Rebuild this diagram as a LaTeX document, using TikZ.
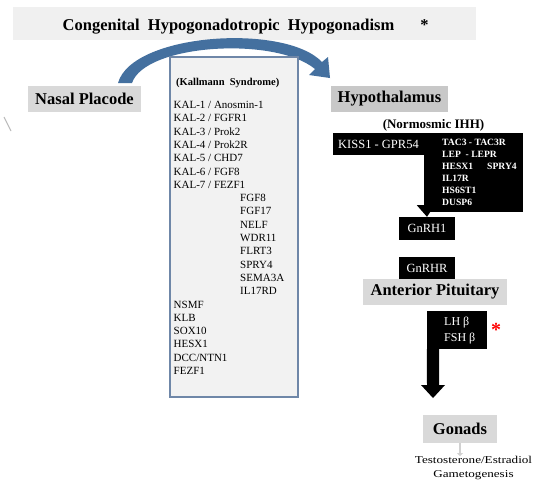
\documentclass[tikz,border=0pt]{standalone}
\usepackage{fontspec}
\setmainfont{Liberation Serif}
\newfontfamily\wideserif[FakeStretch=1.25]{Liberation Serif}
\usetikzlibrary{arrows.meta}
\definecolor{bandgray}{HTML}{F0F0F0}
\definecolor{lblgray}{HTML}{D9D9D9}
\definecolor{hypgray}{HTML}{C8C8C8}
\definecolor{kfill}{HTML}{F2F2F2}
\definecolor{kborder}{HTML}{6F87A8}
\definecolor{arcblue}{HTML}{44709F}
\begin{document}
\begin{tikzpicture}[x=1pt,y=-1pt,
  lbl/.style={fill=lblgray, inner sep=0pt, font=\fontsize{16.5}{18}\selectfont\bfseries},
  blk/.style={fill=black, inner sep=0pt, text=white},
  kl/.style={anchor=base west, inner sep=0pt, font=\fontsize{11}{13}\selectfont},
  tl/.style={anchor=base west, inner sep=0pt, text=white, font=\fontsize{9.6}{11}\selectfont\bfseries}]
\useasboundingbox (0,0) rectangle (545,483);
\fill[white] (0,0) rectangle (545,483);

% title
\node[fill=bandgray, minimum width=463pt, minimum height=33pt, inner sep=0pt] (band) at (244.5,23.5) {};
\node[anchor=base, inner sep=0pt, font=\fontsize{16.5}{18}\selectfont\bfseries] (title) at (228.5,30.5) {Congenital\ \ Hypogonadotropic\ \ Hypogonadism};
\node[anchor=base, inner sep=0pt, font=\fontsize{16.5}{18}\selectfont\bfseries] (star) at (424.5,30.5) {*};

% small grey mark at left
\draw[gray!55, line width=1pt] (4,117) .. controls (7,123) .. (11,131);

% curved blue arrow
\fill[arcblue] (118,83) .. controls (132,33) and (285,23) .. (322,62) -- (328,57) -- (330,78) -- (309,75) -- (315,69) .. controls (275,36) and (145,44) .. (132,83) -- cycle;

% left side
\node[lbl, minimum width=113pt, minimum height=26pt] (nasal) at (84.5,99) {Nasal Placode};

% Kallmann box
\node[fill=kfill, draw=kborder, line width=1.5pt, minimum width=128pt, minimum height=340pt, inner sep=0pt] (kbox) at (234,227) {};
\node[anchor=base west, inner sep=0pt, font=\fontsize{10.5}{12}\selectfont\bfseries] (ksyn) at (176,85.5) {(Kallmann\ \ Syndrome)};
\foreach \t [count=\i from 0] in {KAL-1 / Anosmin-1, KAL-2 / FGFR1, KAL-3 / Prok2, KAL-4 / Prok2R, KAL-5 / CHD7, KAL-6 / FGF8, KAL-7 / FEZF1}
  \node[kl] (ka\i) at (173.5,108.5+13.3*\i) {\t};
\foreach \t [count=\i from 7] in {FGF8, FGF17, NELF, WDR11, FLRT3, SPRY4, SEMA3A, IL17RD}
  \node[kl] (ka\i) at (240,108.5+13.3*\i) {\t};
\foreach \t [count=\i from 15] in {NSMF, KLB, SOX10, HESX1, DCC/NTN1, FEZF1}
  \node[kl] (ka\i) at (173.5,108.5+13.3*\i) {\t};

% hypothalamus
\node[lbl, fill=hypgray, minimum width=117pt, minimum height=26pt] (hyp) at (389.5,99) {Hypothalamus};
\node[anchor=base, inner sep=0pt, font=\fontsize{13}{15}\selectfont\bfseries] (norm) at (433.5,128) {(Normosmic IHH)};

\node[blk, minimum width=91pt, minimum height=22pt, font=\fontsize{12.5}{14}\selectfont] (kiss) at (378.5,144) {KISS1 - GPR54};
\node[blk, minimum width=99pt, minimum height=79pt] (tac) at (473.5,172.5) {};
\node[tl] (t1) at (442,145) {TAC3 - TAC3R};
\node[tl] (t2) at (442,157) {LEP\ \ - LEPR};
\node[tl] (t3) at (442,169) {HESX1};
\node[tl] (t3b) at (487,169) {SPRY4};
\node[tl] (t4) at (442,181) {IL17R};
\node[tl] (t5) at (442,193) {HS6ST1};
\node[tl] (t6) at (442,205) {DUSP6};

\node[blk, minimum width=56pt, minimum height=23pt, font=\fontsize{12.5}{14}\selectfont] (gnrh1) at (427,228.5) {GnRH1};
\fill ([xshift=-7pt,yshift=7pt]tac.south west) -- ([xshift=11pt,yshift=7pt]tac.south west) -- (gnrh1.north) -- cycle;

\node[blk, minimum width=56pt, minimum height=22pt, font=\fontsize{12.5}{14}\selectfont] (gnrhr) at (427,268) {GnRHR};
\node[lbl, minimum width=144pt, minimum height=26pt] (ant) at (435,292) {Anterior Pituitary};

% LH / FSH
\node[blk, minimum width=60pt, minimum height=38pt] (lh) at (457,330) {};
\node[anchor=west, inner sep=0pt, text=white, align=left, font=\fontsize{12}{15.5}\selectfont] (lhtxt) at (444,330.5) {LH β\\FSH β};
\coordinate (tipg) at (433,398);
\fill (lh.south west) -- (427,385) -- (421,385) -- (tipg) -- (445,385) -- (439,385) -- (439,349) -- cycle;
\node[anchor=base, inner sep=0pt, text=red, font=\fontsize{20}{20}\selectfont\bfseries] (rstar) at (496,336) {*};

% gonads
\node[lbl, minimum width=74pt, minimum height=28pt] (gonads) at (460,429) {Gonads};
\node[anchor=north, inner sep=0pt, align=center, font=\wideserif\fontsize{10.5}{14.5}\selectfont] (horm) at (473.5,456) {Testosterone/Estradiol\\Gametogenesis};
\draw[black!18, line width=2pt, -{Triangle[length=3pt,width=6pt]}] (gonads.south) -- (gonads.south |- horm.north);
\end{tikzpicture}
\end{document}
